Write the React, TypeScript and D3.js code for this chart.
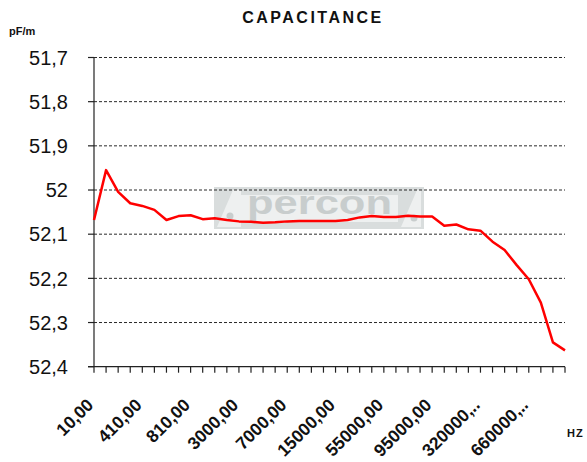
import React from "react";
import * as d3 from "d3";

const frequencies: number[] = [
  10, 110, 210, 310, 410, 510, 610, 710, 810, 910, 1000, 2000, 3000, 4000, 5000, 6000,
  7000, 8000, 9000, 10000, 15000, 25000, 35000, 45000, 55000, 65000, 75000, 85000,
  95000, 120000, 180000, 250000, 320000, 400000, 480000, 560000, 660000, 760000, 860000, 960000,
];

const capacitance: number[] = [
  52.068, 51.955, 52.004, 52.03, 52.036, 52.045, 52.068, 52.059, 52.057, 52.066,
  52.064, 52.068, 52.071, 52.072, 52.074, 52.073, 52.071, 52.07, 52.07, 52.07,
  52.07, 52.068, 52.062, 52.059, 52.061, 52.061, 52.058, 52.06, 52.06, 52.081,
  52.078, 52.089, 52.092, 52.117, 52.136, 52.17, 52.202, 52.255, 52.345, 52.363,
];

const yTicks: number[] = [51.7, 51.8, 51.9, 52, 52.1, 52.2, 52.3, 52.4];

const FONT = "'Liberation Sans', Arial, sans-serif";

function fmtLabel(v: number): string {
  const s = v.toFixed(2).replace(".", ",");
  return s.length > 8 ? s.slice(0, 7) + ".." : s;
}

export default function App() {
  const W = 587, H = 462;
  const left = 94, right = 565, top = 57.5, bottom = 366.7;
  const idx = frequencies.map((_, i) => i);
  const x = d3.scalePoint<number>().domain(idx).range([left, right]);
  const y = d3.scaleLinear().domain([51.7, 52.4]).range([top, bottom]);
  const line = d3
    .line<number>()
    .x((_, i) => x(i) as number)
    .y((d) => y(d));

  return (
    <svg width={W} height={H} style={{ position: "absolute", left: 0, top: 0, background: "#fff" }}>
      <rect width={W} height={H} fill="#fff" />
      {/* watermark */}
      <g>
        <rect x={214} y={187} width={210} height={42} fill="#d9dddd" />
        <rect x={240} y={195} width={158} height={27} fill="#eef0f0" />
        <polygon points="217,227 233,190 241,190 241,227" fill="#eef0f0" />
        <circle cx={230} cy={216} r={3.5} fill="#c8cdcd" />
        <polygon points="401,227 417,190 421,190 421,227" fill="#eef0f0" />
        <circle cx={414} cy={218} r={3.5} fill="#c8cdcd" />
        <text
          x={247}
          y={214}
          fontFamily={FONT}
          fontWeight="bold"
          fontSize={33}
          fill="#c8cdcd"
          textLength={145}
          lengthAdjust="spacingAndGlyphs"
        >
          percon
        </text>
      </g>
      {/* gridlines */}
      {yTicks.slice(0, -1).map((t) => (
        <line
          key={"g" + t}
          x1={left}
          x2={right}
          y1={y(t)}
          y2={y(t)}
          stroke="#2a2a2a"
          strokeWidth={1}
          strokeDasharray="3,2"
        />
      ))}
      {/* y axis */}
      <line x1={left} x2={left} y1={top} y2={bottom} stroke="#222" strokeWidth={1.2} />
      {yTicks.map((t) => (
        <g key={"yt" + t}>
          <line x1={left - 6} x2={left} y1={y(t)} y2={y(t)} stroke="#222" strokeWidth={1.2} />
          <text
            x={68}
            y={y(t)}
            dy="0.36em"
            textAnchor="end"
            fontFamily={FONT}
            fontSize={20}
            fill="#111"
          >
            {String(t).replace(".", ",")}
          </text>
        </g>
      ))}
      {/* x axis */}
      <line x1={left - 6} x2={right} y1={bottom} y2={bottom} stroke="#222" strokeWidth={1.2} />
      {idx.map((i) => (
        <line
          key={"xt" + i}
          x1={x(i) as number}
          x2={x(i) as number}
          y1={bottom}
          y2={bottom + 6}
          stroke="#222"
          strokeWidth={1.2}
        />
      ))}
      {idx
        .filter((i) => i % 4 === 0)
        .map((i) => {
          const px = (x(i) as number) + 0.5;
          const py = 406;
          return (
            <text
              key={"xl" + i}
              x={px}
              y={py}
              transform={`rotate(-45 ${px} ${py})`}
              textAnchor="end"
              fontFamily={FONT}
              fontWeight="bold"
              fontSize={17.5}
              fill="#111"
            >
              {fmtLabel(frequencies[i])}
            </text>
          );
        })}
      {/* data line */}
      <path d={line(capacitance) || ""} fill="none" stroke="#ff0000" strokeWidth={2.5} strokeLinejoin="round" />
      {/* titles */}
      <text
        x={313}
        y={22.5}
        textAnchor="middle"
        fontFamily={FONT}
        fontWeight="bold"
        fontSize={16}
        letterSpacing={2.5}
        fill="#111"
      >
        CAPACITANCE
      </text>
      <text x={9} y={35} fontFamily={FONT} fontWeight="bold" fontSize={11} fill="#111">
        pF/m
      </text>
      <text x={567} y={437} fontFamily={FONT} fontWeight="bold" fontSize={11} letterSpacing={1} fill="#111">
        HZ
      </text>
    </svg>
  );
}
